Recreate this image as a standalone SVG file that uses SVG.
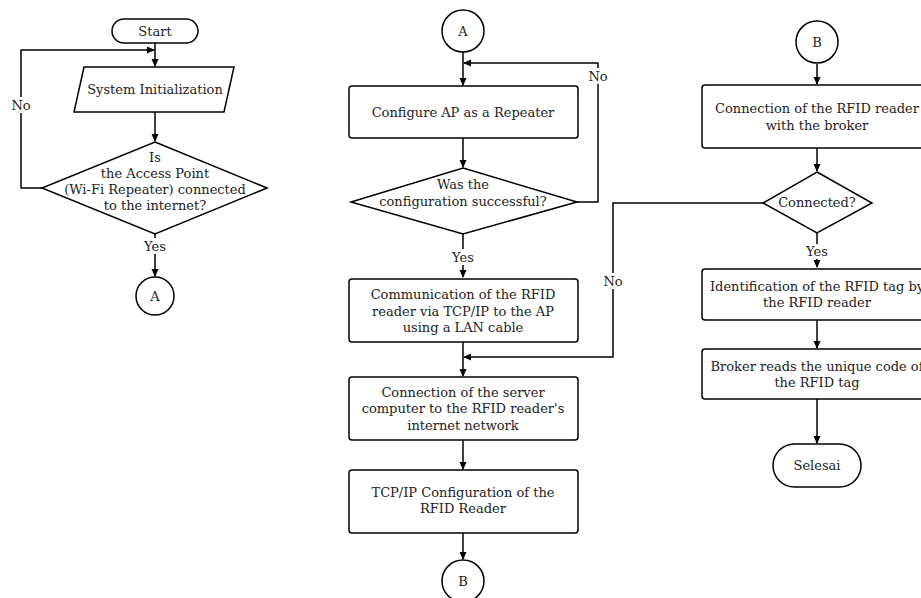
<svg xmlns="http://www.w3.org/2000/svg" width="921" height="598" viewBox="0 0 921 598">
<defs>
<marker id="ah" markerWidth="8" markerHeight="8" refX="7" refY="4" orient="auto" markerUnits="userSpaceOnUse">
<path d="M0,0.5 L8,4 L0,7.5 Z" fill="#000"/>
</marker>
<style>
.s{fill:#fff;stroke:#000;stroke-width:1.5}
.c{fill:none;stroke:#000;stroke-width:1.5;stroke-linejoin:round}
text{font-family:"DejaVu Serif","Liberation Serif",serif;font-size:13px;fill:#222;text-anchor:middle}
.lb{fill:#fff;stroke:none}
</style>
</defs>
<rect width="921" height="598" fill="#fff"/>
<g id="connectors">
<path class="c" d="M155,43 V66" marker-end="url(#ah)"/>
<path class="c" d="M155,112 V141" marker-end="url(#ah)"/>
<path class="c" d="M42,188 H21 V50 H154" marker-end="url(#ah)"/>
<path class="c" d="M155,234 V276" marker-end="url(#ah)"/>
<path class="c" d="M463,52 V85" marker-end="url(#ah)"/>
<path class="c" d="M463,138 V167" marker-end="url(#ah)"/>
<path class="c" d="M577,202 H598 V63 H464" marker-end="url(#ah)"/>
<path class="c" d="M463,234 V277" marker-end="url(#ah)"/>
<path class="c" d="M463,342 V376" marker-end="url(#ah)"/>
<path class="c" d="M763,203 H613 V357 H464" marker-end="url(#ah)"/>
<path class="c" d="M463,440 V469" marker-end="url(#ah)"/>
<path class="c" d="M463,533 V559" marker-end="url(#ah)"/>
<path class="c" d="M817,64 V84" marker-end="url(#ah)"/>
<path class="c" d="M817,148 V171" marker-end="url(#ah)"/>
<path class="c" d="M817,233 V267" marker-end="url(#ah)"/>
<path class="c" d="M817,320 V348" marker-end="url(#ah)"/>
<path class="c" d="M817,399 V443" marker-end="url(#ah)"/>
<rect class="lb" x="8" y="97" width="26" height="16"/><text x="21" y="110">No</text>
<rect class="lb" x="140" y="238" width="30" height="16"/><text x="155" y="251">Yes</text>
<rect class="lb" x="585" y="68" width="26" height="16"/><text x="598" y="81">No</text>
<rect class="lb" x="448" y="249" width="30" height="16"/><text x="463" y="262">Yes</text>
<rect class="lb" x="600" y="273" width="26" height="16"/><text x="613" y="286">No</text>
<rect class="lb" x="802" y="244" width="30" height="15"/><text x="817" y="256">Yes</text>
</g>
<g id="start"><rect class="s" x="112" y="19" width="86" height="24" rx="12"/><text x="155" y="36">Start</text></g>
<g id="init"><path class="s" d="M84,67 H234 L224,112 H74 Z"/><text x="155" y="94">System Initialization</text></g>
<g id="ap-check"><path class="s" d="M155,142 L267,188 L155,234 L42,188 Z"/>
<text x="155" y="162">Is</text><text x="155" y="178">the Access Point</text><text x="155" y="194">(Wi-Fi Repeater) connected</text><text x="155" y="210">to the internet?</text></g>
<g id="a1"><circle class="s" cx="155" cy="296" r="19"/><text x="155" y="301">A</text></g>
<g id="a2"><circle class="s" cx="463" cy="31" r="21"/><text x="463" y="36">A</text></g>
<g id="config"><rect class="s" x="349" y="86" width="229" height="52" rx="3"/><text x="463" y="117">Configure AP as a Repeater</text></g>
<g id="config-check"><path class="s" d="M463,168 L577,202 L463,234 L351,202 Z"/>
<text x="463" y="189">Was the</text><text x="463" y="206">configuration successful?</text></g>
<g id="comm"><rect class="s" x="349" y="279" width="229" height="63" rx="3"/>
<text x="463" y="299">Communication of the RFID</text><text x="463" y="316">reader via TCP/IP to the AP</text><text x="463" y="332">using a LAN cable</text></g>
<g id="server"><rect class="s" x="349" y="377" width="229" height="63" rx="3"/>
<text x="463" y="397">Connection of the server</text><text x="463" y="413">computer to the RFID reader's</text><text x="463" y="430">internet network</text></g>
<g id="tcpip"><rect class="s" x="349" y="470" width="229" height="63" rx="3"/>
<text x="463" y="497">TCP/IP Configuration of the</text><text x="463" y="513">RFID Reader</text></g>
<g id="b1"><circle class="s" cx="463" cy="581" r="21"/><text x="463" y="586">B</text></g>
<g id="b2"><circle class="s" cx="817" cy="42" r="21"/><text x="817" y="47">B</text></g>
<g id="broker-conn"><rect class="s" x="702" y="85" width="230" height="63" rx="3"/>
<text x="817" y="113">Connection of the RFID reader</text><text x="817" y="130">with the broker</text></g>
<g id="connected"><path class="s" d="M817,172 L872,203 L817,233 L763,203 Z"/><text x="817" y="207">Connected?</text></g>
<g id="ident"><rect class="s" x="702" y="269" width="230" height="51" rx="3"/>
<text x="817" y="291">Identification of the RFID tag by</text><text x="817" y="307">the RFID reader</text></g>
<g id="reads"><rect class="s" x="702" y="349" width="230" height="50" rx="3"/>
<text x="817" y="371">Broker reads the unique code of</text><text x="817" y="387">the RFID tag</text></g>
<g id="end"><rect class="s" x="773" y="444" width="88" height="43" rx="21.5"/><text x="817" y="470">Selesai</text></g>
</svg>
